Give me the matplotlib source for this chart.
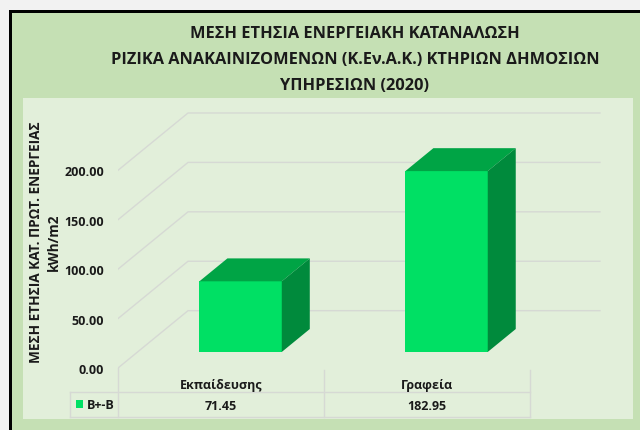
import matplotlib.pyplot as plt
from matplotlib.patches import Rectangle, Polygon
from matplotlib.transforms import blended_transform_factory

# data
categories = ['Εκπαίδευσης', 'Γραφεία']
values = [71.45, 182.95]
series_name = 'B+-B'
yticks = [0, 50, 100, 150, 200]
title_lines = ['ΜΕΣΗ ΕΤΗΣΙΑ ΕΝΕΡΓΕΙΑΚΗ ΚΑΤΑΝΑΛΩΣΗ',
               'ΡΙΖΙΚΑ ΑΝΑΚΑΙΝΙΖΟΜΕΝΩΝ (Κ.Εν.Α.Κ.) ΚΤΗΡΙΩΝ ΔΗΜΟΣΙΩΝ',
               'ΥΠΗΡΕΣΙΩΝ (2020)']
ylabel_lines = ['ΜΕΣΗ ΕΤΗΣΙΑ ΚΑΤ. ΠΡΩΤ. ΕΝΕΡΓΕΙΑΣ', 'kWh/m2']

plt.rcParams['font.family'] = ['Open Sans', 'DejaVu Sans']
plt.rcParams['font.weight'] = 'bold'
TXT = '#1a1a1a'
FRONT, TOP, SIDE = '#00e064', '#00a445', '#008a3c'
GRID = '#d6d9d4'

W_PX, H_PX = 640, 431
fig = plt.figure(figsize=(6.4, 4.31), dpi=100, facecolor='#f2f2f2')


def fx(x):
    return x / W_PX


def fy(y):
    return 1 - y / H_PX


# frame and backgrounds
bg = dict(transform=fig.transFigure, edgecolor='none', zorder=-10)
fig.add_artist(Rectangle((fx(9), 0), 1, fy(11), facecolor='black', **bg))
fig.add_artist(Rectangle((fx(12), 0), 1, fy(14), facecolor='#c5e0b4', **bg))
fig.add_artist(Rectangle((fx(23), fy(420)), fx(633 - 23), fy(99) - fy(420),
                         facecolor='#e2efda', **bg))

for i, line in enumerate(title_lines):
    fig.text(fx(355), fy(34 + 26 * i), line, ha='center', va='center',
             fontsize=11.8, color=TXT)

fig.text(fx(36), fy(242), ylabel_lines[0], rotation=90, ha='center', va='center',
         fontsize=9.8, color=TXT)
fig.text(fx(54), fy(242), ylabel_lines[1], rotation=90, ha='center', va='center',
         fontsize=9.8, color=TXT)

ax = fig.add_axes([fx(118), fy(369), fx(602 - 118), fy(112) - fy(369)])
ax.set_xlim(-0.5, 1.85)
ax.set_ylim(0, 260)
ax.patch.set_visible(False)
for s in ax.spines.values():
    s.set_visible(False)
ax.set_xticks([])
ax.set_yticks(yticks)
ax.set_yticklabels([f'{t:.2f}' for t in yticks])
ax.tick_params(axis='y', length=0, pad=10, labelsize=9, labelcolor=TXT)

DX, DY = 0.34, 58.0   # depth of the walls in data units
F0, F1 = 0.28, 0.68   # bar depth span as fractions of the wall depth
BW = 0.4

n = len(categories)
for t in yticks:
    ax.plot([-0.5, -0.5 + DX, n - 0.5 + DX], [t, t + DY, t + DY],
            color=GRID, lw=1, zorder=1)

ddx, ddy = (F1 - F0) * DX, (F1 - F0) * DY
for i, v in enumerate(values):
    x0 = i - BW / 2 + F0 * DX
    y0 = F0 * DY
    ax.bar(x0, v, bottom=y0, width=BW, align='edge', color=FRONT, zorder=3)
    ax.add_patch(Polygon([(x0, y0 + v), (x0 + BW, y0 + v),
                          (x0 + BW + ddx, y0 + v + ddy), (x0 + ddx, y0 + v + ddy)],
                         closed=True, facecolor=TOP, edgecolor='none', zorder=3))
    ax.add_patch(Polygon([(x0 + BW, y0), (x0 + BW, y0 + v),
                          (x0 + BW + ddx, y0 + v + ddy), (x0 + BW + ddx, y0 + ddy)],
                         closed=True, facecolor=SIDE, edgecolor='none', zorder=3))

# data table under the axis
tr = blended_transform_factory(ax.transData, ax.transAxes)


def ay(y):
    return (369 - y) / 257


xl = -0.5 - 48 / 206
kw = dict(transform=tr, color=GRID, lw=1, clip_on=False, zorder=1)
ax.plot([-0.5, -0.5], [0, ay(418)], **kw)
for xv in [i + 0.5 for i in range(n)]:
    ax.plot([xv, xv], [ay(371), ay(418)], **kw)
ax.plot([xl, xl], [ay(393), ay(418)], **kw)
for yv in [393, 418]:
    ax.plot([xl, n - 0.5], [ay(yv), ay(yv)], **kw)

for i, (c, v) in enumerate(zip(categories, values)):
    ax.text(i, ay(386), c, transform=tr, ha='center', va='center',
            fontsize=9, color=TXT, clip_on=False)
    ax.text(i, ay(407), f'{v:.2f}', transform=tr, ha='center', va='center',
            fontsize=9, color=TXT, clip_on=False)

fig.add_artist(Rectangle((fx(76), fy(409)), fx(7), fy(401) - fy(409),
                         transform=fig.transFigure, facecolor=FRONT, edgecolor='none'))
fig.text(fx(87), fy(406), series_name, ha='left', va='center', fontsize=9, color=TXT)

fig.savefig('out.png', dpi=100, facecolor=fig.get_facecolor())
